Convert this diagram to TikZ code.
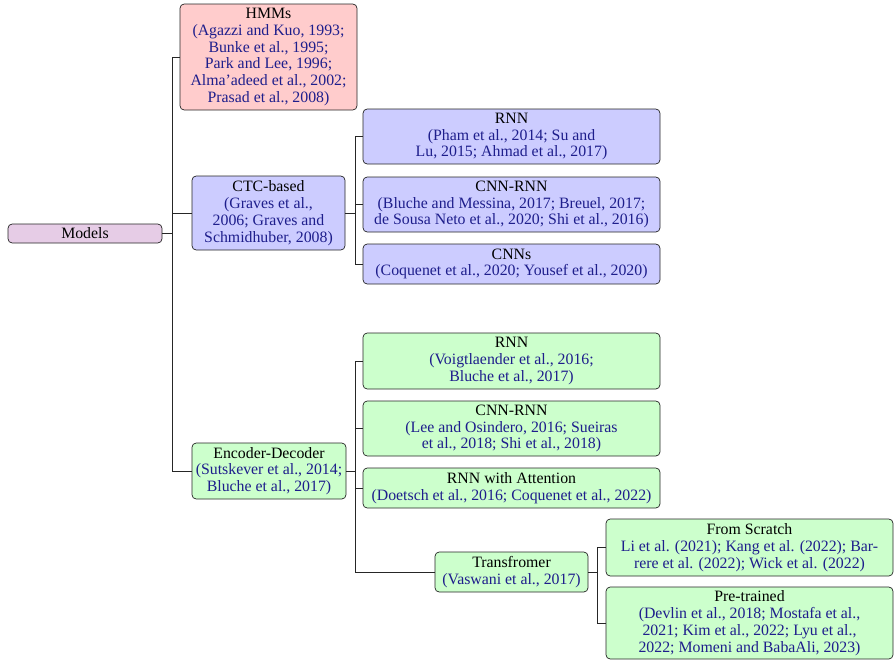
\documentclass[tikz,border=0pt]{standalone}
\usepackage{fontspec}
\setmainfont{Liberation Serif}
\definecolor{citec}{RGB}{30,30,140}
\definecolor{cpink}{RGB}{255,204,204}
\definecolor{cblue}{RGB}{204,204,255}
\definecolor{cgreen}{RGB}{204,255,204}
\definecolor{cviolet}{RGB}{230,204,230}
\newcommand\ct[1]{\textcolor{citec}{#1}}
\tikzset{
  mbox/.style 2 args={draw=black!85, rounded corners=3pt, align=center, inner sep=1pt,
    line width=0.5pt, minimum width=#1*0.7143pt, minimum height=#2*0.7143pt, font=\fontsize{11.3}{12}\selectfont},
  link/.style={draw=black!85, line width=0.5pt},
}
\begin{document}
\begin{tikzpicture}[x=0.7143pt, y=-0.7143pt]
\useasboundingbox (0,0) rectangle (894,662);
\node[mbox={154}{19}, fill=cviolet] (models) at (85,233.5) {Models};
\node[mbox={177}{106}, fill=cpink] (hmm) at (268.5,57) {HMMs\\\ct{(Agazzi and Kuo, 1993;}\\\ct{Bunke et al., 1995;}\\\ct{Park and Lee, 1996;}\\\ct{Alma'adeed et al., 2002;}\\\ct{Prasad et al., 2008)}};
\node[mbox={153}{74}, fill=cblue] (ctc) at (268.5,213) {CTC-based\\\ct{(Graves et al.,}\\\ct{2006; Graves and}\\\ct{Schmidhuber, 2008)}};
\node[mbox={297}{55}, fill=cblue] (crnn) at (511.5,136.5) {RNN\\\ct{(Pham et al., 2014; Su and}\\\ct{Lu, 2015; Ahmad et al., 2017)}};
\node[mbox={297}{55}, fill=cblue] (ccnnrnn) at (511.5,204.5) {CNN-RNN\\\ct{(Bluche and Messina, 2017; Breuel, 2017;}\\\ct{de Sousa Neto et al., 2020; Shi et al., 2016)}};
\node[mbox={297}{40}, fill=cblue] (ccnn) at (511.5,264) {CNNs\\\ct{(Coquenet et al., 2020; Yousef et al., 2020)}};
\node[mbox={154}{56}, fill=cgreen] (ed) at (269,471) {Encoder-Decoder\\\ct{(Sutskever et al., 2014;}\\\ct{Bluche et al., 2017)}};
\node[mbox={297}{56}, fill=cgreen] (ernn) at (511.5,361) {RNN\\\ct{(Voigtlaender et al., 2016;}\\\ct{Bluche et al., 2017)}};
\node[mbox={297}{55}, fill=cgreen] (ecnnrnn) at (511.5,428.5) {CNN-RNN\\\ct{(Lee and Osindero, 2016; Sueiras}\\\ct{et al., 2018; Shi et al., 2018)}};
\node[mbox={297}{40}, fill=cgreen] (eatt) at (511.5,488) {RNN with Attention\\\ct{(Doetsch et al., 2016; Coquenet et al., 2022)}};
\node[mbox={153}{40}, fill=cgreen] (tr) at (511.5,572) {Transfromer\\\ct{(Vaswani et al., 2017)}};
\node[mbox={287}{57}, fill=cgreen] (fs) at (749.5,547.5) {From Scratch\\\ct{Li et al. (2021); Kang et al. (2022); Bar-}\\\ct{rere et al. (2022); Wick et al. (2022)}};
\node[mbox={287}{72}, fill=cgreen] (pt) at (749.5,623) {Pre-trained\\\ct{(Devlin et al., 2018; Mostafa et al.,}\\\ct{2021; Kim et al., 2022; Lyu et al.,}\\\ct{2022; Momeni and BabaAli, 2023)}};
\foreach \c in {hmm,ctc,ed} \draw[link] (models.east) -- ++(10,0) |- (\c.west);
\foreach \c in {crnn,ccnnrnn,ccnn} \draw[link] (ctc.east) -- ++(10,0) |- (\c.west);
\foreach \c in {ernn,ecnnrnn,eatt,tr} \draw[link] (ed.east) -- ++(9,0) |- (\c.west);
\foreach \c in {fs,pt} \draw[link] (tr.east) -- ++(9,0) |- (\c.west);
\end{tikzpicture}
\end{document}
